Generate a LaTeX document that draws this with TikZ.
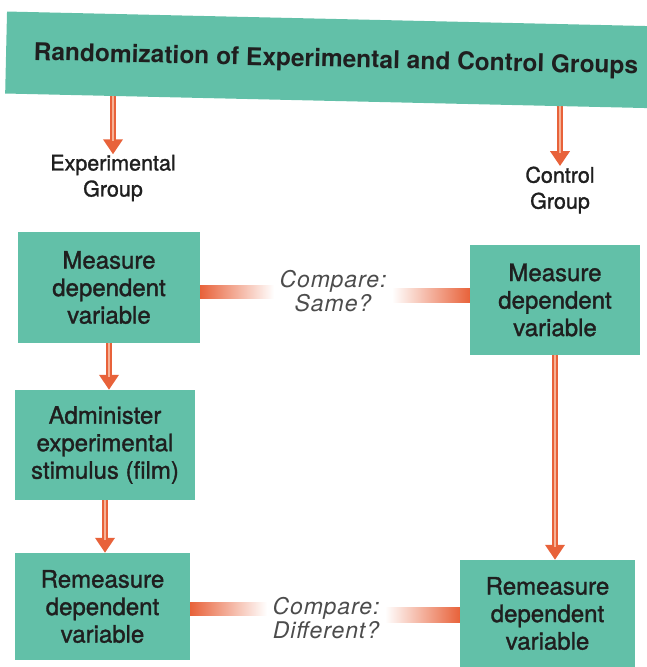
\documentclass[tikz,border=0pt]{standalone}
\usepackage{fontspec}
\setmainfont{TeX Gyre Heros}
\newfontfamily\medfont[FakeBold=1.3]{TeX Gyre Heros}
\newfontfamily\cmpfont[LetterSpace=4]{TeX Gyre Heros}
\usetikzlibrary{arrows.meta,calc,backgrounds}
\definecolor{teal1}{RGB}{98,192,168}
\definecolor{arr}{RGB}{232,98,58}
\definecolor{arrl}{RGB}{246,178,150}
\begin{document}
\begin{tikzpicture}[x=1pt,y=-1pt,
 box/.style={fill=teal1, draw=none, align=center, font=\medfont\fontsize{24}{27.5}\selectfont, text=black!88, inner sep=0pt},
 lbl/.style={align=center, font=\medfont\fontsize{21.5}{26}\selectfont, text=black!88},
 cmp/.style={align=center, font=\cmpfont\itshape\fontsize{23}{24}\selectfont, text=black!70},
 flow/.style={draw=arr, line width=5.5pt, -{Triangle[width=19pt,length=15pt]},
   postaction={draw=arrl, line width=2.6pt, shorten >=13pt, -}},
]
\useasboundingbox (0,0) rectangle (647,667);

\node[box, rotate=-1.3, minimum width=660pt, minimum height=82pt,
      font=\bfseries\fontsize{24.5}{28}\selectfont, text depth=4pt] (top) at (336,60)
      {Randomization of Experimental and Control Groups};

\node[lbl] (expg) at (113,178) {Experimental\\Group};
\node[lbl] (ctlg) at (560,190) {Control\\Group};

\node[box, minimum width=182pt, minimum height=111pt] (m1) at (109,287.5) {Measure\\dependent\\variable};
\node[box, minimum width=170pt, minimum height=110pt] (m2) at (555,300) {Measure\\dependent\\variable};
\node[box, minimum width=180pt, minimum height=110pt] (ad) at (105,445) {Administer\\experimental\\stimulus (film)};
\node[box, minimum width=175pt, minimum height=107pt] (r1) at (102.5,606.5) {Remeasure\\dependent\\variable};
\node[box, minimum width=175pt, minimum height=107pt] (r2) at (547.5,613.5) {Remeasure\\dependent\\variable};

\node[cmp] (c1) at (333,291) {Compare:\\Same?};
\node[cmp] (c2) at (326,618) {Compare:\\Different?};

\begin{scope}[on background layer]
\draw[flow] ($(expg.north |- top.south)+(0,-8)$) -- ($(expg.north)+(0,3)$);
\draw[flow] ($(ctlg.north |- top.south)+(0,-3)$) -- ($(ctlg.north)+(0,3)$);
\end{scope}
\draw[flow] (m1.south) -- (m1.south |- ad.north);
\draw[flow] (ad.south) -- (ad.south |- r1.north);
\draw[flow] (m2.south) -- (m2.south |- r2.north);

\shade[left color=arr, right color=white] ($(m1.east)+(0,-2.5)$) rectangle ($(c1.west |- m1.east)+(-2,10.5)$);
\shade[left color=white, right color=arr] ($(c1.east |- m2.west)+(2,-12)$) rectangle ($(m2.west)+(0,2)$);
\shade[left color=arr, right color=white] ($(r1.east)+(0,-4.5)$) rectangle ($(c2.west |- r1.east)+(-2,8.5)$);
\shade[left color=white, right color=arr] ($(c2.east |- r2.west)+(2,-6.5)$) rectangle ($(r2.west)+(0,8.5)$);
\end{tikzpicture}
\end{document}
